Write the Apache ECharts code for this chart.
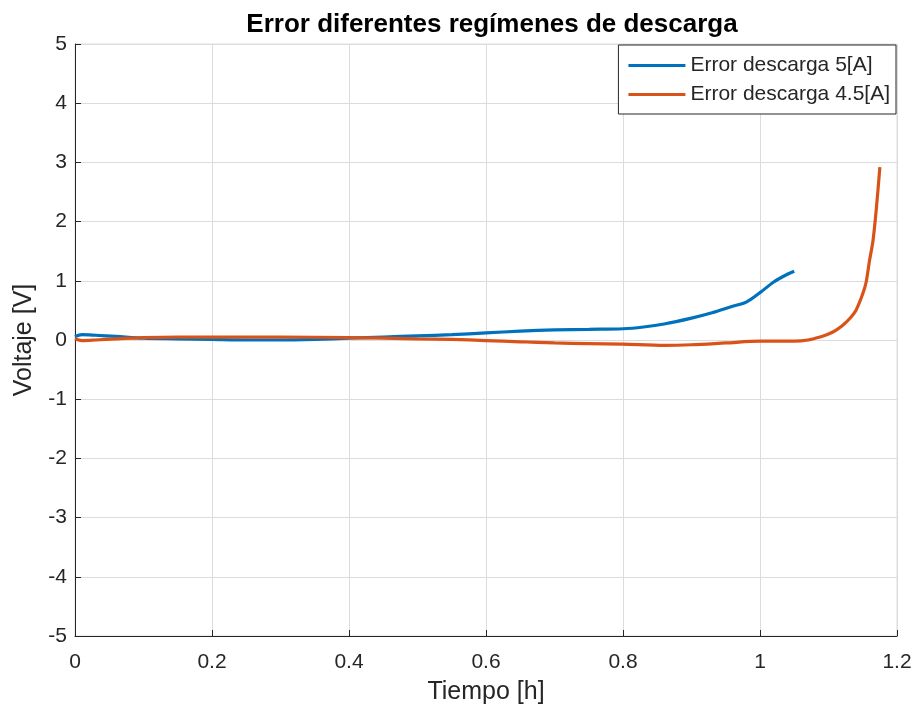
<!DOCTYPE html>
<html>
<head>
<meta charset="utf-8">
<script src="https://cdn.jsdelivr.net/npm/echarts@6/dist/echarts.min.js"></script>
<style>
  html, body { margin: 0; padding: 0; background: #fff; }
  #chart { width: 918px; height: 715px; }
</style>
</head>
<body>
<div id="chart"></div>
<script>
// Discharge error curves: time in hours, voltage error in volts
const tiempo5A = [0, 0.01, 0.03, 0.06, 0.1, 0.15, 0.2, 0.25, 0.3, 0.35, 0.4, 0.45, 0.5, 0.55, 0.6, 0.65, 0.7, 0.75, 0.8, 0.83, 0.86, 0.9, 0.93, 0.96, 0.98, 1.0, 1.02, 1.04, 1.05];
const error5A = [0.06, 0.09, 0.08, 0.06, 0.03, 0.02, 0.01, 0.0, 0.0, 0.01, 0.03, 0.05, 0.07, 0.09, 0.12, 0.15, 0.17, 0.18, 0.19, 0.22, 0.27, 0.37, 0.46, 0.57, 0.64, 0.80, 0.98, 1.11, 1.16];

const tiempo45A = [0, 0.01, 0.03, 0.06, 0.1, 0.15, 0.2, 0.3, 0.4, 0.5, 0.55, 0.6, 0.65, 0.7, 0.75, 0.8, 0.86, 0.9, 0.95, 1.0, 1.05, 1.07, 1.09, 1.1, 1.11, 1.12, 1.13, 1.14, 1.15, 1.155, 1.16, 1.165, 1.17, 1.175];
const error45A = [0.02, -0.01, 0.0, 0.02, 0.04, 0.05, 0.05, 0.05, 0.04, 0.02, 0.01, -0.01, -0.03, -0.05, -0.06, -0.07, -0.09, -0.08, -0.05, -0.02, -0.02, 0.0, 0.06, 0.10, 0.16, 0.24, 0.35, 0.5, 0.78, 0.98, 1.35, 1.68, 2.24, 2.92];

const seriesNames = ['Error descarga 5[A]', 'Error descarga 4.5[A]'];
const seriesColors = ['#0072BD', '#D95319'];

const pairs = (xs, ys) => xs.map((x, i) => [x, ys[i]]);

const FONT = '"Liberation Sans", Arial, sans-serif';
const TEXT = '#262626';
const GRID = '#dcdcdc';

const chart = echarts.init(document.getElementById('chart'), null, { renderer: 'canvas' });

chart.setOption({
  animation: false,
  backgroundColor: '#ffffff',
  title: {
    text: 'Error diferentes regímenes de descarga',
    left: 487,
    textAlign: 'center',
    top: 7,
    textStyle: { fontFamily: FONT, fontSize: 26, fontWeight: 'bold', color: '#000' }
  },
  grid: { left: 75, right: 21, top: 44, bottom: 79, show: true, borderColor: GRID, borderWidth: 1 },
  legend: {
    orient: 'vertical',
    right: 22,
    top: 45,
    padding: [10, 6, 9, 10],
    itemGap: 8,
    itemWidth: 57,
    itemHeight: 3,
    icon: 'rect',
    backgroundColor: '#ffffff',
    borderColor: TEXT,
    borderWidth: 1,
    textStyle: { fontFamily: FONT, fontSize: 21, color: TEXT },
    data: seriesNames
  },
  xAxis: {
    type: 'value',
    min: 0,
    max: 1.2,
    interval: 0.2,
    name: 'Tiempo [h]',
    nameLocation: 'middle',
    nameGap: 44,
    nameTextStyle: { fontFamily: FONT, fontSize: 25, color: TEXT },
    axisLine: { onZero: false, lineStyle: { color: TEXT, width: 1 } },
    axisTick: { inside: true, length: 6, lineStyle: { color: TEXT } },
    axisLabel: { fontFamily: FONT, fontSize: 21, color: TEXT, margin: 16 },
    splitLine: { show: true, lineStyle: { color: GRID, width: 1 } }
  },
  yAxis: {
    type: 'value',
    min: -5,
    max: 5,
    interval: 1,
    name: 'Voltaje [V]',
    nameLocation: 'middle',
    nameRotate: 90,
    nameGap: 38,
    nameTextStyle: { fontFamily: FONT, fontSize: 25, color: TEXT },
    axisLine: { show: true, onZero: false, lineStyle: { color: TEXT, width: 1 } },
    axisTick: { show: true, inside: true, length: 6, lineStyle: { color: TEXT } },
    axisLabel: { fontFamily: FONT, fontSize: 21, color: TEXT, margin: 8 },
    splitLine: { show: true, lineStyle: { color: GRID, width: 1 } }
  },
  series: [
    {
      name: seriesNames[0],
      type: 'line',
      data: pairs(tiempo5A, error5A),
      symbol: 'none',
      smooth: 0.3,
      lineStyle: { color: seriesColors[0], width: 3.2 },
      itemStyle: { color: seriesColors[0] }
    },
    {
      name: seriesNames[1],
      type: 'line',
      data: pairs(tiempo45A, error45A),
      symbol: 'none',
      smooth: 0.3,
      lineStyle: { color: seriesColors[1], width: 3.2 },
      itemStyle: { color: seriesColors[1] }
    }
  ]
});
</script>
</body>
</html>
